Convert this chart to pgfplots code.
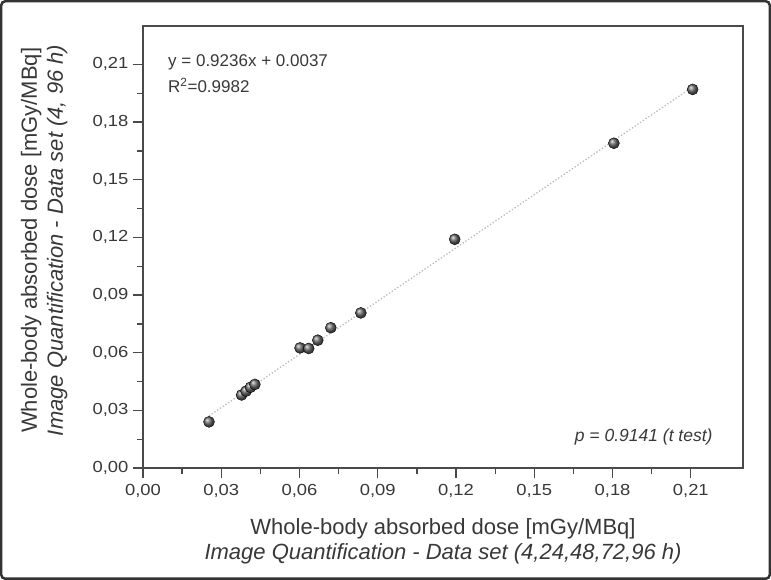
\documentclass[border=0pt]{standalone}
\usepackage{pgfplots}
\pgfplotsset{compat=1.18}
\usepackage{fontspec}
\setmainfont{Liberation Sans}
\newfontfamily\tickfont[FakeStretch=1.15]{Liberation Sans}
\definecolor{txt}{HTML}{383838}
\definecolor{axc}{HTML}{4A4A4A}
\definecolor{ballc}{HTML}{6A6A6A}
\begin{document}
\begin{tikzpicture}
\begin{axis}[
  name=ax,
  scale only axis, width=600pt, height=442pt,
  xmin=0, xmax=0.23, ymin=0, ymax=0.23,
  xtick={0,0.03,0.06,0.09,0.12,0.15,0.18,0.21},
  ytick={0,0.03,0.06,0.09,0.12,0.15,0.18,0.21},
  minor x tick num=1, minor y tick num=1,
  scaled ticks=false,
  tick align=outside, xtick pos=bottom, ytick pos=left,
  major tick length=10pt, minor tick length=6pt,
  axis line style={line width=1.3pt, draw=axc},
  every tick/.style={line width=1.3pt, axc},
  /pgf/number format/fixed, /pgf/number format/fixed zerofill,
  /pgf/number format/precision=2, /pgf/number format/use comma,
  /pgf/number format/assume math mode=true,
  tick label style={font=\tickfont\fontsize{16}{19}\selectfont, text=txt},
  xticklabel style={yshift=-3pt},
  yticklabel style={xshift=-1pt},
  xlabel={Whole-body absorbed dose [mGy/MBq]\\\textit{Image Quantification - Data set (4,24,48,72,96 h)}},
  ylabel={Whole-body absorbed dose [mGy/MBq]\\\textit{Image Quantification - Data set (4, 96 h)}},
  xlabel style={at={(axis description cs:0.5,0)}, anchor=north, yshift=-47pt, align=center, font=\fontsize{22}{25}\selectfont, text=txt},
  ylabel style={at={(axis description cs:-0.12,0.515)}, anchor=south, rotate=0, align=center, font=\fontsize{22}{26}\selectfont, text=txt},
  clip=false,
]
\addplot[dotted, line width=1.3pt, color=gray!55] coordinates {(0.0253,0.0271) (0.2107,0.1983)};
\addplot[only marks, mark=ball, mark size=5.5pt, mark options={ball color=ballc}] coordinates {
(0.0253,0.0240)
(0.0378,0.0380)
(0.0395,0.0400)
(0.0412,0.0420)
(0.0429,0.0435)
(0.0602,0.0625)
(0.0635,0.0622)
(0.0670,0.0665)
(0.0720,0.0730)
(0.0835,0.0807)
(0.1195,0.1190)
(0.1805,0.1690)
(0.2107,0.1970)
};
\node[anchor=base west, inner sep=0pt, font=\fontsize{17}{20}\selectfont, text=txt] at (axis cs:0.00958,0.2089) {y = 0.9236x + 0.0037};
\node[anchor=base west, inner sep=0pt, font=\fontsize{17}{20}\selectfont, text=txt] at (axis cs:0.00958,0.1953) {R\textsuperscript{2}=0.9982};
\node[anchor=base east, inner sep=0pt, font=\fontsize{17.5}{20}\selectfont\itshape, text=txt] at (axis cs:0.2184,0.01354) {p = 0.9141 (t test)};
\end{axis}
\draw[line width=2.5pt, rounded corners=4pt, color=black!80] ([xshift=-141.75pt, yshift=-110.75pt]ax.south west) rectangle ([xshift=26.75pt, yshift=24.75pt]ax.north east);
\end{tikzpicture}
\end{document}
